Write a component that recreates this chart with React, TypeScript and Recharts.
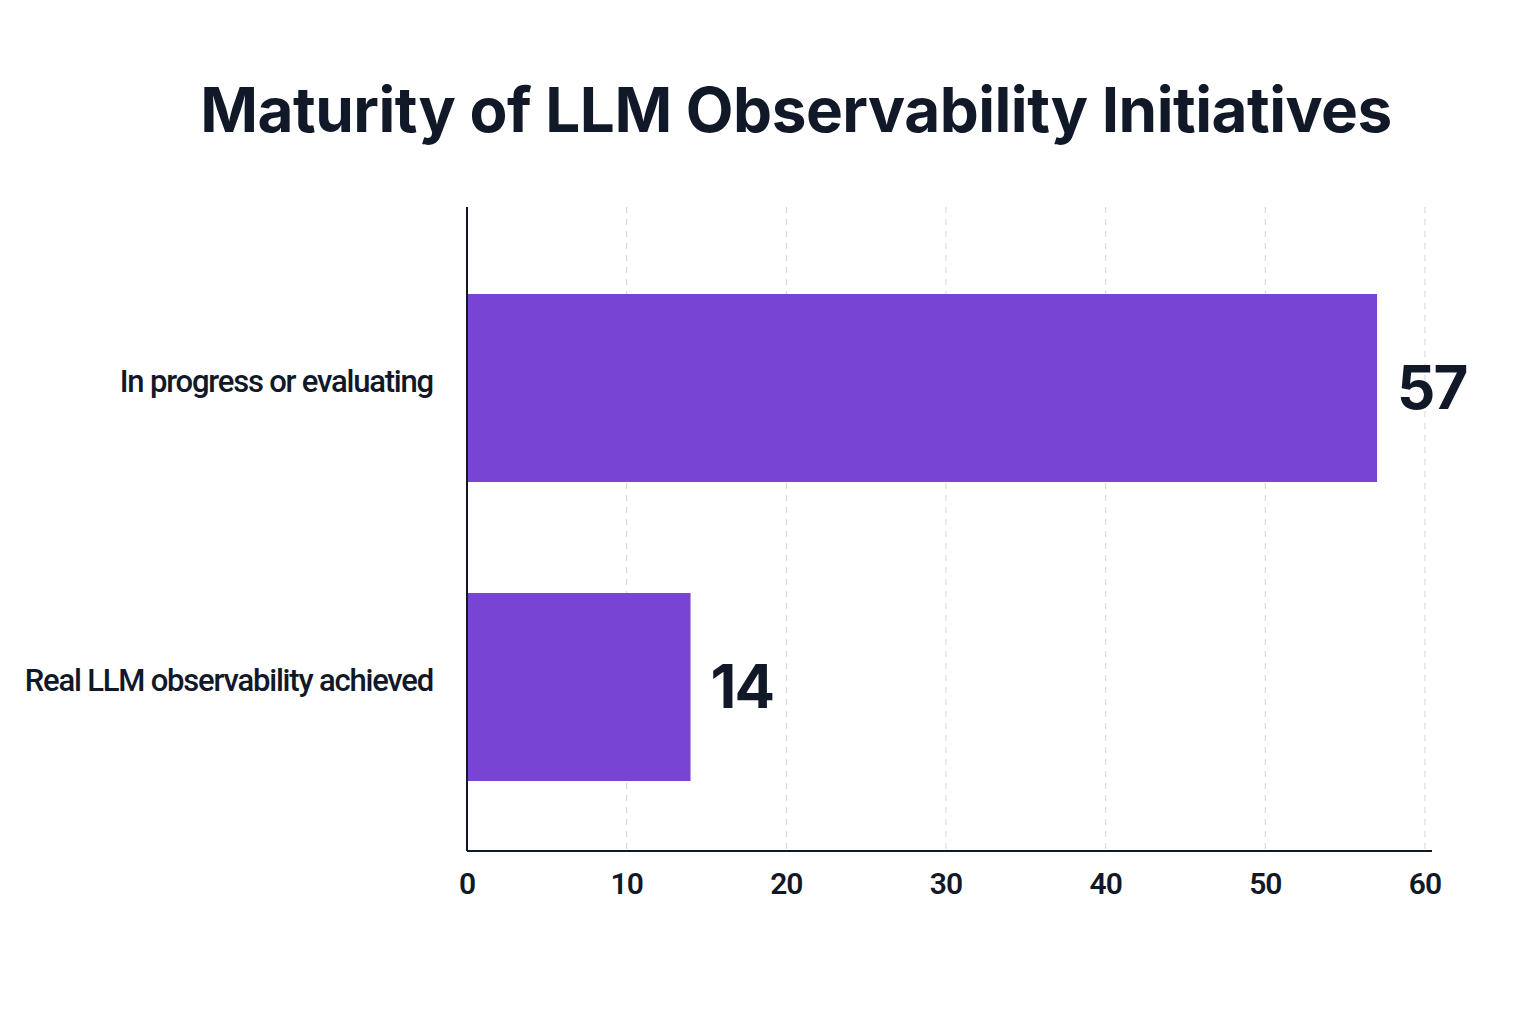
import { BarChart, Bar, XAxis, YAxis, CartesianGrid, LabelList } from 'recharts';

const CATEGORIES = ['In progress or evaluating', 'Real LLM observability achieved'];
const VALUES = [57, 14];
const X_TICKS = [0, 10, 20, 30, 40, 50, 60];

const data = CATEGORIES.map((name, i) => ({ name, value: VALUES[i] }));

const INK = '#111827';

// category labels sit a little above the band centre in the original
const CategoryTick = (props: any) => {
  const { x, y, payload } = props;
  return (
    <text
      x={x}
      y={y - 6}
      textAnchor="end"
      dominantBaseline="central"
      fill={INK}
      style={{ fontSize: 31, fontWeight: 500, fontFamily: 'Roboto, sans-serif', letterSpacing: -1.2 }}
    >
      {payload.value}
    </text>
  );
};

export default function App() {
  return (
    <div style={{ position: 'absolute', left: 0, top: 0, width: 1536, height: 1024, background: '#fff' }}>
      <div
        style={{
          position: 'absolute',
          top: 72,
          left: 0,
          width: 1592,
          textAlign: 'center',
          fontFamily: 'Inter, Roboto, sans-serif',
          fontWeight: 700,
          fontSize: 62,
          color: INK,
          letterSpacing: -0.5,
        }}
      >
        Maturity of LLM Observability Initiatives
      </div>
      <BarChart
        width={1536}
        height={1024}
        data={data}
        layout="vertical"
        margin={{ top: 207, right: 104, bottom: 113, left: 0 }}
      >
        <CartesianGrid horizontal={false} verticalValues={X_TICKS} strokeDasharray="6 6" stroke="#d4d4d8" />
        <XAxis
          type="number"
          domain={[0, 60.44]}
          ticks={X_TICKS}
          height={60}
          axisLine={{ stroke: INK, strokeWidth: 2 }}
          tickLine={false}
          tickSize={0}
          tickMargin={22}
          tick={{ fill: INK, fontSize: 30, fontWeight: 600, fontFamily: 'Roboto, sans-serif', letterSpacing: -1 }}
        />
        <YAxis
          type="category"
          dataKey="name"
          width={467}
          padding={{ top: 31, bottom: 15 }}
          axisLine={{ stroke: INK, strokeWidth: 2 }}
          tickLine={false}
          tickSize={0}
          tickMargin={34}
          tick={<CategoryTick />}
        />
        <Bar dataKey="value" fill="#7744D4" barSize={188} isAnimationActive={false}>
          <LabelList
            dataKey="value"
            position="right"
            offset={20}
            style={{ fill: INK, fontSize: 60, fontWeight: 700, fontFamily: 'Inter, Roboto, sans-serif', letterSpacing: -2 }}
          />
        </Bar>
      </BarChart>
    </div>
  );
}
